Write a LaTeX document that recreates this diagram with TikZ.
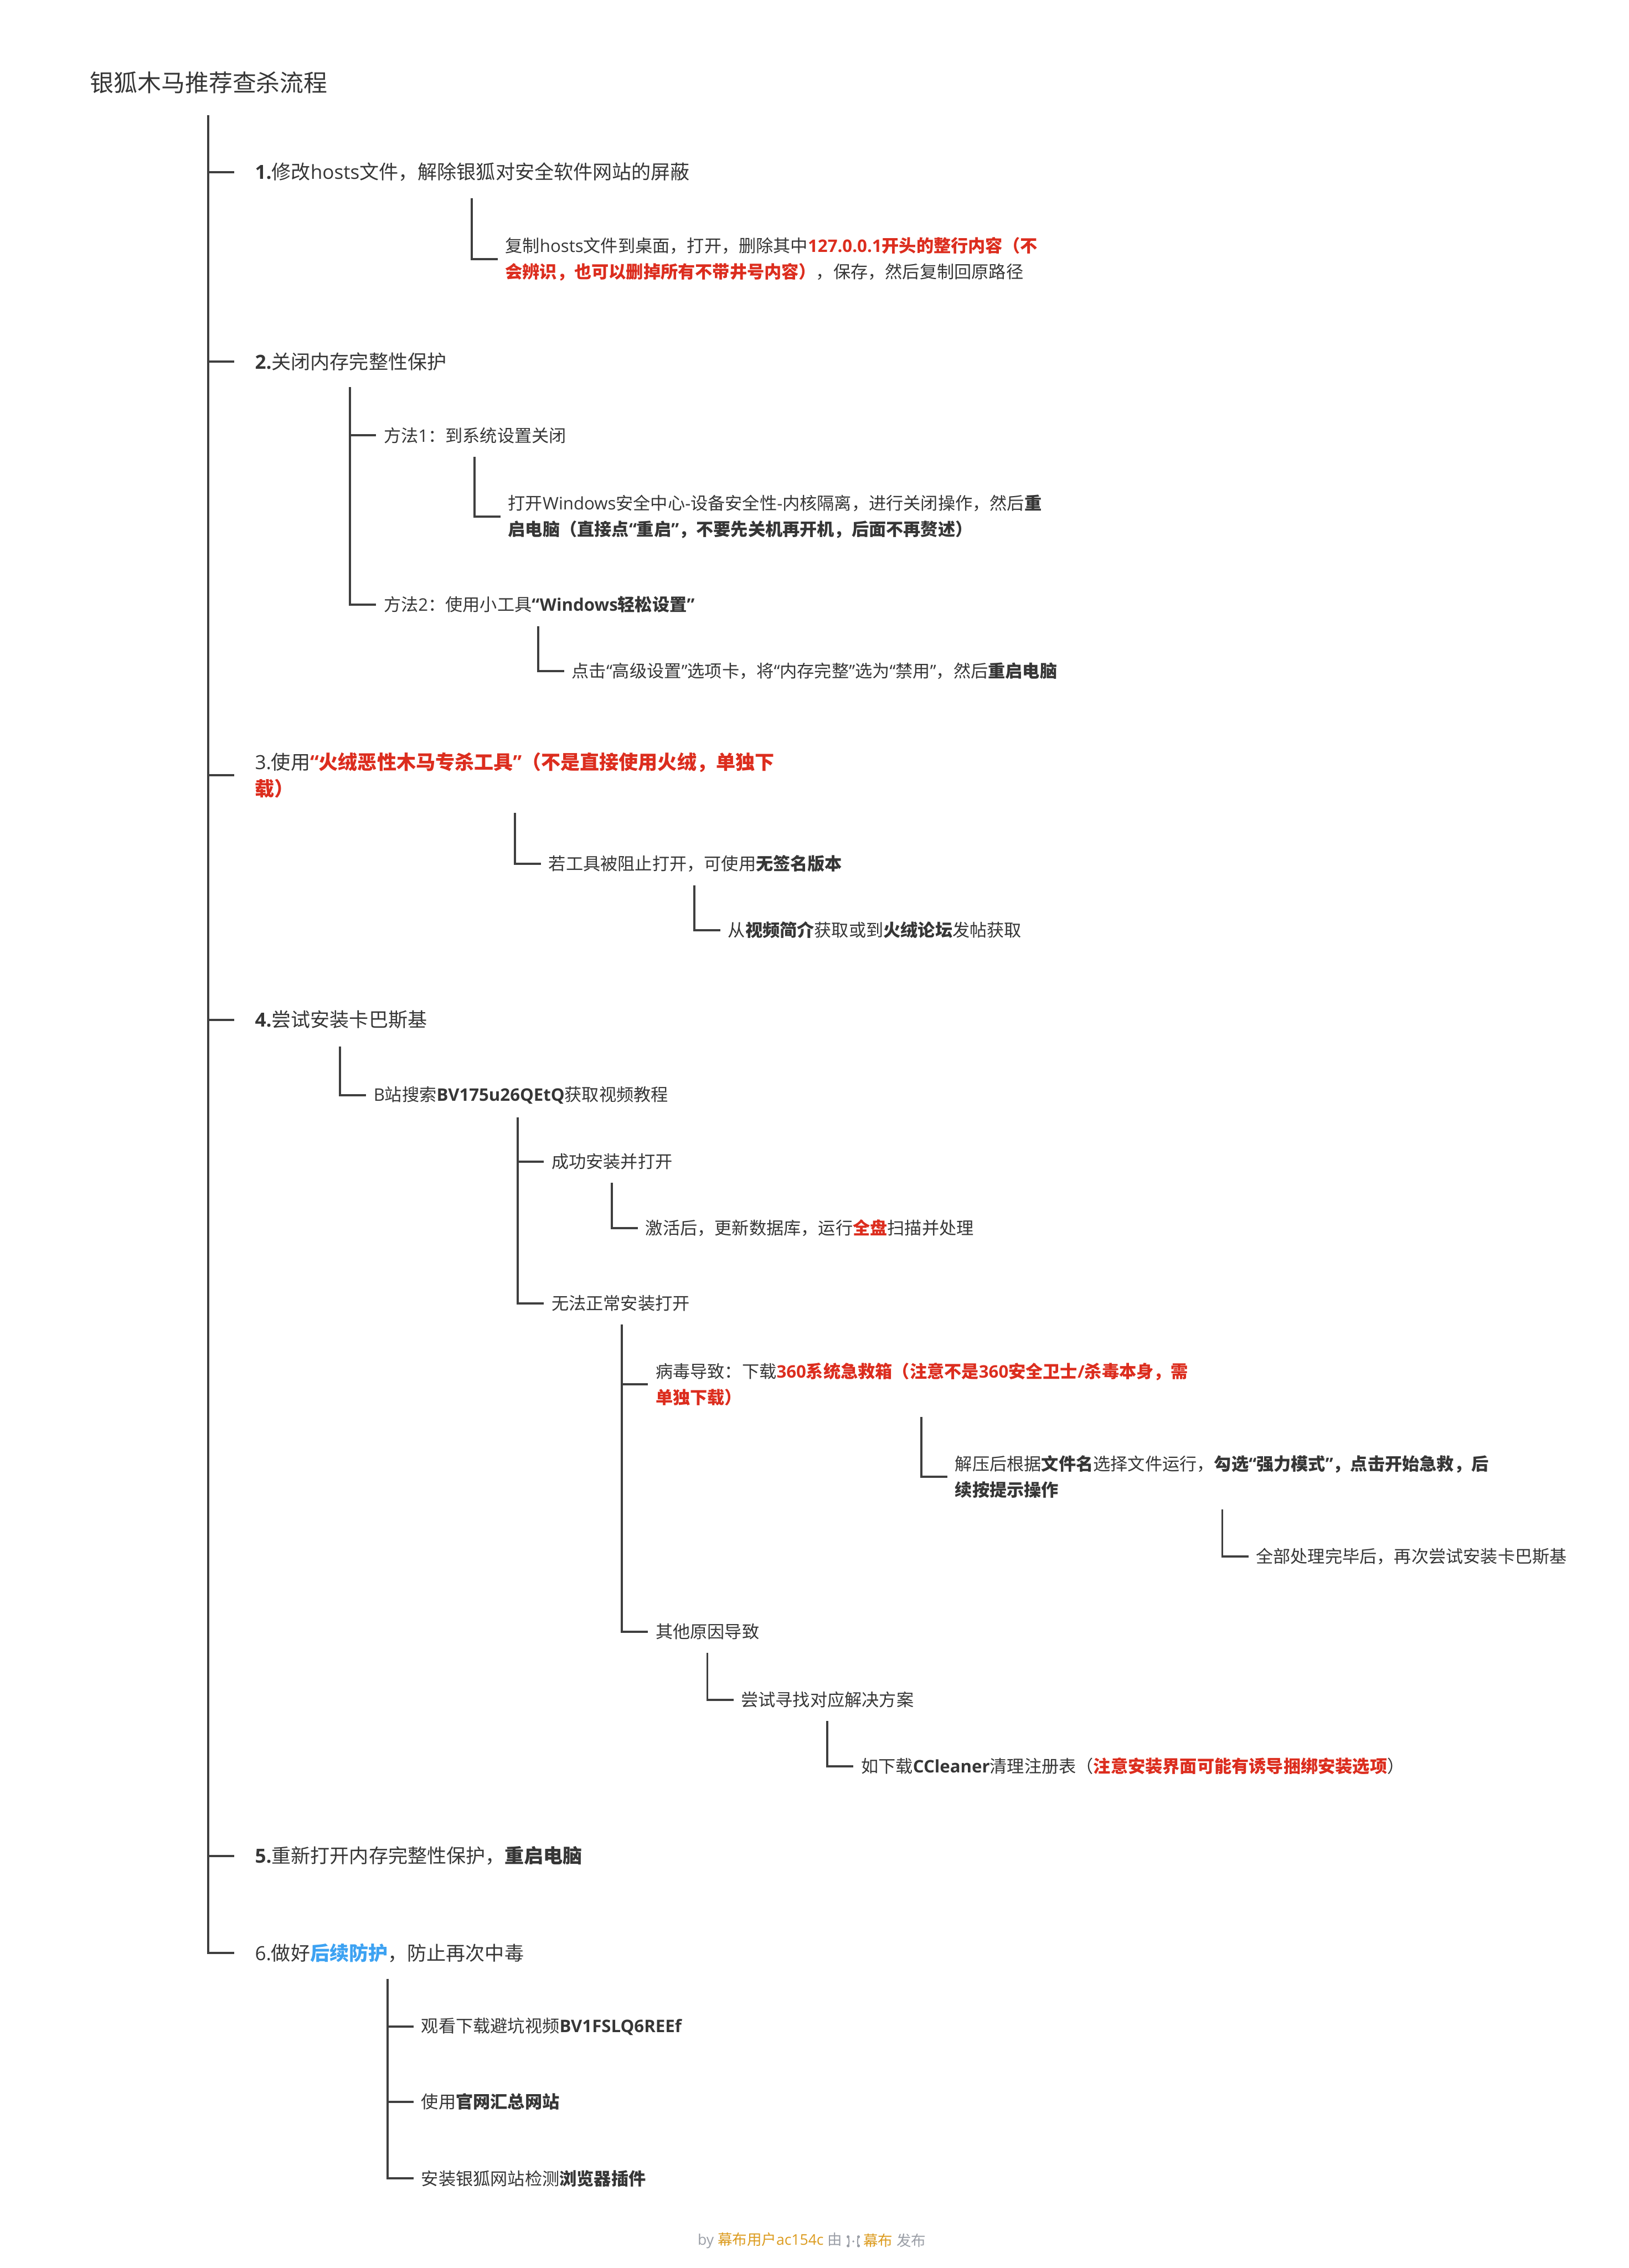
\documentclass[tikz,border=0pt]{standalone}
\usepackage{fontspec}
\setmainfont{Open Sans}
\newfontfamily\cjkf{Noto Sans CJK SC}
\newcount\cc
\newXeTeXintercharclass\mycjk
\cc=0
\loop \XeTeXcharclass\cc=0 \ifnum\cc<"2FFF \advance\cc by 1 \repeat
\cc="3000
\loop \XeTeXcharclass\cc=\mycjk \ifnum\cc<"303F \advance\cc by 1 \repeat
\cc="4E00
\loop \XeTeXcharclass\cc=\mycjk \ifnum\cc<"9FFF \advance\cc by 1 \repeat
\cc="FF00
\loop \XeTeXcharclass\cc=\mycjk \ifnum\cc<"FFEF \advance\cc by 1 \repeat
\XeTeXinterchartoks 0 \mycjk = {\cjkf}
\XeTeXinterchartoks 4095 \mycjk = {\cjkf}
\XeTeXinterchartoks \mycjk 0 = {\rmfamily}
\XeTeXinterchartoks \mycjk 4095 = {\rmfamily}
\XeTeXinterchartokenstate=1
\usetikzlibrary{calc}
\definecolor{txt}{HTML}{363636}
\definecolor{ln}{HTML}{3F3F3F}
\definecolor{redc}{HTML}{DC2D1E}
\definecolor{bluec}{HTML}{3DA2F2}
\definecolor{fg}{HTML}{9A9EA6}
\definecolor{fo}{HTML}{DC9B1E}
\newcommand{\rb}[1]{\textcolor{redc}{\bfseries #1}}
\newcommand{\bb}[1]{\textcolor{bluec}{\bfseries #1}}
\newcommand{\lnk}[3]{%
  \path ([xshift=-15.41pt]#2.west) coordinate (tmpv);
  \draw[conn] (tmpv |- #1.south) ++(0,-#3) |- ([xshift=-3.35pt]#2.west);}
\begin{document}
\begin{tikzpicture}[x=0.67pt,y=-0.67pt,
  lvzero/.style={anchor=west,inner sep=0pt,text=txt,font=\fontsize{11pt}{13pt}\selectfont},
  lvone/.style={anchor=west,inner sep=0pt,align=left,text=txt,font=\fontsize{9pt}{12.5pt}\selectfont},
  lvtwo/.style={anchor=west,inner sep=0pt,align=left,text=txt,font=\fontsize{8pt}{12pt}\selectfont},
  foot/.style={inner sep=0pt,font=\fontsize{6.8pt}{8pt}\selectfont},
  conn/.style={draw=ln,line width=1pt}]
\fill[white] (0,0) rectangle (1126.12,1567.9);
\useasboundingbox (0,0) rectangle (1126.12,1567.9);

% title and level 1
\node[lvzero] (t) at (62,57) {银狐木马推荐查杀流程};
\node[lvone] (n1) at (176,119) {\textbf{1.}修改hosts文件，解除银狐对安全软件网站的屏蔽};
\node[lvone] (n2) at (176,250) {\textbf{2.}关闭内存完整性保护};
\node[lvone] (n3) at (176,536) {3.使用\rb{“火绒恶性木马专杀工具”（不是直接使用火绒，单独下}\\\rb{载）}};
\node[lvone] (n4) at (176,705) {\textbf{4.}尝试安装卡巴斯基};
\node[lvone] (n5) at (176,1283) {\textbf{5.}重新打开内存完整性保护，\textbf{重启电脑}};
\node[lvone] (n6) at (176,1350) {6.做好\bb{后续防护}，防止再次中毒};

% branch 1
\node[lvtwo] (n11) at (349,179) {复制hosts文件到桌面，打开，删除其中\rb{127.0.0.1开头的整行内容（不}\\\rb{会辨识，也可以删掉所有不带井号内容）}，保存，然后复制回原路径};

% branch 2
\node[lvtwo] (n21) at (265,301) {方法1：到系统设置关闭};
\node[lvtwo] (n211) at (351,357) {打开Windows安全中心-设备安全性-内核隔离，进行关闭操作，然后\textbf{重}\\\textbf{启电脑（直接点“重启”，不要先关机再开机，后面不再赘述）}};
\node[lvtwo] (n22) at (265,418) {方法2：使用小工具\textbf{“Windows轻松设置”}};
\node[lvtwo] (n221) at (395,464) {点击“高级设置”选项卡，将“内存完整”选为“禁用”，然后\textbf{重启电脑}};

% branch 3
\node[lvtwo] (n31) at (379,597) {若工具被阻止打开，可使用\textbf{无签名版本}};
\node[lvtwo] (n311) at (503,643) {从\textbf{视频简介}获取或到\textbf{火绒论坛}发帖获取};

% branch 4
\node[lvtwo] (n41) at (258,757) {B站搜索\textbf{BV175u26QEtQ}获取视频教程};
\node[lvtwo] (n411) at (381,803) {成功安装并打开};
\node[lvtwo] (n4111) at (446,849) {激活后，更新数据库，运行\rb{全盘}扫描并处理};
\node[lvtwo] (n412) at (381,901) {无法正常安装打开};
\node[lvtwo] (n4121) at (453,957) {病毒导致：下载\rb{360系统急救箱（注意不是360安全卫士/杀毒本身，需}\\\rb{单独下载）}};
\node[lvtwo] (n41211) at (660,1021) {解压后根据\textbf{文件名}选择文件运行，\textbf{勾选“强力模式”，点击开始急救，后}\\\textbf{续按提示操作}};
\node[lvtwo] (n412111) at (868,1076) {全部处理完毕后，再次尝试安装卡巴斯基};
\node[lvtwo] (n4122) at (453,1128) {其他原因导致};
\node[lvtwo] (n41221) at (512,1175) {尝试寻找对应解决方案};
\node[lvtwo] (n412211) at (595,1221) {如下载\textbf{CCleaner}清理注册表（\rb{注意安装界面可能有诱导捆绑安装选项}）};

% branch 6
\node[lvtwo] (n61) at (291,1401) {观看下载避坑视频\textbf{BV1FSLQ6REEf}};
\node[lvtwo] (n62) at (291,1453) {使用\textbf{官网汇总网站}};
\node[lvtwo] (n63) at (291,1506) {安装银狐网站检测\textbf{浏览器插件}};

% connectors level 1
\path ([xshift=-21.44pt]n1.west) coordinate (vmain);
\foreach \c in {n1,n2,n3,n4,n5,n6}
  \draw[conn] (vmain |- t.south) ++(0,-10pt) |- ([xshift=-9.4pt]\c.west);

% connectors deeper levels
\lnk{n1}{n11}{7.5pt}
\lnk{n2}{n21}{7.5pt}
\lnk{n2}{n22}{7.5pt}
\lnk{n21}{n211}{6pt}
\lnk{n22}{n221}{6pt}
\lnk{n3}{n31}{6.5pt}
\lnk{n31}{n311}{6pt}
\lnk{n4}{n41}{8pt}
\lnk{n41}{n411}{6pt}
\lnk{n41}{n412}{6pt}
\lnk{n411}{n4111}{6pt}
\lnk{n412}{n4121}{6pt}
\lnk{n412}{n4122}{6pt}
\lnk{n4121}{n41211}{5pt}
\lnk{n41211}{n412111}{5pt}
\lnk{n4122}{n41221}{6pt}
\lnk{n41221}{n412211}{6pt}
\lnk{n6}{n61}{7.5pt}
\lnk{n6}{n62}{7.5pt}
\lnk{n6}{n63}{7.5pt}

% footer
\node[foot,anchor=east] (fa) at (582.5,1549) {\textcolor{fg}{by~}\textcolor{fo}{幕布用户ac154c}\textcolor{fg}{~由}};
\node[foot,anchor=west] (fb) at (596.5,1549) {\textcolor{fo}{幕布}\textcolor{fg}{~发布}};
\begin{scope}[fg, line width=0.5pt]
  \fill (586.3,1546.3) circle (1.0);
  \fill (586.3,1552.6) circle (1.0);
  \draw (586.3,1546.3) .. controls (587.2,1548) and (587.2,1551) .. (586.3,1552.6);
  \fill (589.9,1549.5) circle (0.75);
  \fill (593.5,1546.3) circle (1.0);
  \fill (593.5,1552.6) circle (1.0);
  \draw (593.5,1546.3) .. controls (592.6,1548) and (592.6,1551) .. (593.5,1552.6);
\end{scope}
\end{tikzpicture}
\end{document}
